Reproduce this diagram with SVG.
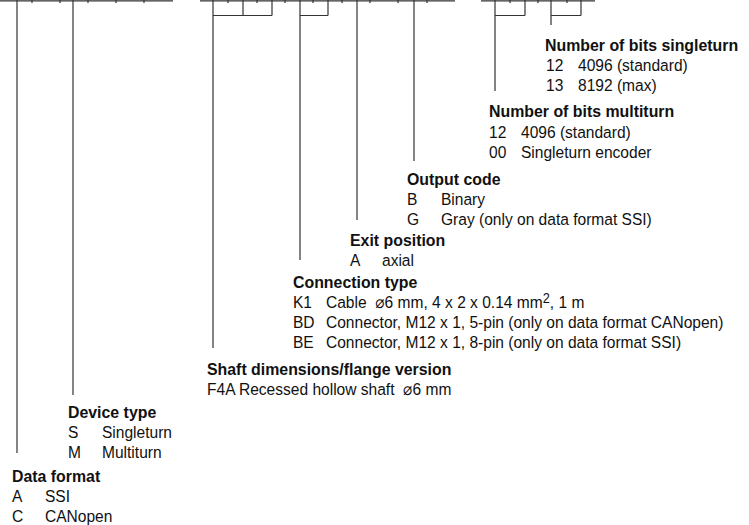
<svg xmlns="http://www.w3.org/2000/svg" width="749" height="525" viewBox="0 0 749 525">
<style>
text{font-family:"Liberation Sans",Arial,"DejaVu Sans",sans-serif;font-size:17px;fill:#111}
.h{font-weight:bold}
.ln{stroke:#333;stroke-width:1.2;fill:none}
</style>
<rect width="749" height="525" fill="#fff"/>
<g id="code-template" class="ln">
<path d="M0 0.8H173M200 0.8H455M481 0.8H595"/>
<path d="M32 0V3M60 0V3M88 0V3M116 0V3M144 0V3M228 0V3M257 0V3M285 0V3M313 0V3M342 0V3M370 0V3M398 0V3M427 0V3M510 0V3M538 0V3M567 0V3"/>
</g>
<g id="connectors" class="ln">
<path d="M17 0V453"/>
<path d="M73 0V395"/>
<path d="M213 0V348M213 15.5H272M243 0V15.5M272 0V15.5"/>
<path d="M300 0V260M300 15.5H328M328 0V15.5"/>
<path d="M357 0V220"/>
<path d="M414 0V161"/>
<path d="M495 0V91M495 15.5H525M525 0V15.5"/>
<path d="M551 0V25M551 15.5H581M581 0V15.5"/>
</g>
<g id="bits-singleturn">
<text class="h" transform="translate(545,51) scale(0.935,1)">Number of bits singleturn</text>
<text transform="translate(546,71) scale(0.915,1)">12</text>
<text transform="translate(578,71) scale(0.915,1)">4096 (standard)</text>
<text transform="translate(546,91) scale(0.915,1)">13</text>
<text transform="translate(578,91) scale(0.915,1)">8192 (max)</text>
</g>
<g id="bits-multiturn">
<text class="h" transform="translate(489,117) scale(0.935,1)">Number of bits multiturn</text>
<text transform="translate(489,138) scale(0.915,1)">12</text>
<text transform="translate(521,138) scale(0.915,1)">4096 (standard)</text>
<text transform="translate(489,158) scale(0.915,1)">00</text>
<text transform="translate(521,158) scale(0.915,1)">Singleturn encoder</text>
</g>
<g id="output-code">
<text class="h" transform="translate(407,185) scale(0.935,1)">Output code</text>
<text transform="translate(407,205) scale(0.915,1)">B</text>
<text transform="translate(441,205) scale(0.915,1)">Binary</text>
<text transform="translate(407,225) scale(0.915,1)">G</text>
<text transform="translate(441,225) scale(0.915,1)">Gray (only on data format SSI)</text>
</g>
<g id="exit-position">
<text class="h" transform="translate(350,246) scale(0.935,1)">Exit position</text>
<text transform="translate(350,266) scale(0.915,1)">A</text>
<text transform="translate(382,266) scale(0.915,1)">axial</text>
</g>
<g id="connection-type">
<text class="h" transform="translate(293,288) scale(0.935,1)">Connection type</text>
<text transform="translate(293,308) scale(0.915,1)">K1</text>
<text transform="translate(326,308) scale(0.915,1)" xml:space="preserve">Cable  ⌀6 mm, 4 x 2 x 0.14 mm<tspan font-size="14" dy="-5">2</tspan><tspan dy="5">, 1 m</tspan></text>
<text transform="translate(293,328) scale(0.915,1)">BD</text>
<text transform="translate(326,328) scale(0.915,1)">Connector, M12 x 1, 5-pin (only on data format CANopen)</text>
<text transform="translate(293,348) scale(0.915,1)">BE</text>
<text transform="translate(326,348) scale(0.915,1)">Connector, M12 x 1, 8-pin (only on data format SSI)</text>
</g>
<g id="shaft">
<text class="h" transform="translate(207,375) scale(0.935,1)">Shaft dimensions/flange version</text>
<text transform="translate(207,395) scale(0.915,1)" xml:space="preserve">F4A Recessed hollow shaft  ⌀6 mm</text>
</g>
<g id="device-type">
<text class="h" transform="translate(68,418) scale(0.935,1)">Device type</text>
<text transform="translate(68,438) scale(0.915,1)">S</text>
<text transform="translate(102,438) scale(0.915,1)">Singleturn</text>
<text transform="translate(68,458) scale(0.915,1)">M</text>
<text transform="translate(102,458) scale(0.915,1)">Multiturn</text>
</g>
<g id="data-format">
<text class="h" transform="translate(12,482) scale(0.935,1)">Data format</text>
<text transform="translate(12,502) scale(0.915,1)">A</text>
<text transform="translate(45,502) scale(0.915,1)">SSI</text>
<text transform="translate(12,522) scale(0.915,1)">C</text>
<text transform="translate(45,522) scale(0.915,1)">CANopen</text>
</g>
</svg>
